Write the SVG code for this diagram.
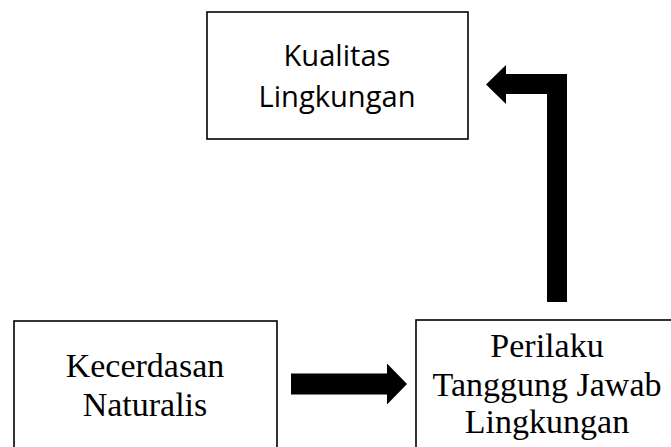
<svg xmlns="http://www.w3.org/2000/svg" width="671" height="447" viewBox="0 0 671 447">
<style>
.box{fill:#fff;stroke:#000;stroke-width:1.6}
.sans{font-family:"Open Sans","Noto Sans",sans-serif;font-size:29px;fill:#000;text-anchor:middle}
.serif{font-family:"Liberation Serif","Times New Roman",serif;font-size:34px;fill:#000;text-anchor:middle}
.arrow{fill:#000;stroke:none}
</style>
<rect width="671" height="447" fill="#fff"/>
<g id="node-kualitas">
<rect class="box" x="207" y="12" width="261" height="127"/>
<text class="sans" x="337" y="66" textLength="107" lengthAdjust="spacingAndGlyphs">Kualitas</text>
<text class="sans" x="337" y="107" textLength="157" lengthAdjust="spacingAndGlyphs">Lingkungan</text>
</g>
<g id="node-kecerdasan">
<rect class="box" x="14" y="321" width="263" height="140"/>
<text class="serif" x="145" y="377">Kecerdasan</text>
<text class="serif" x="145" y="416">Naturalis</text>
</g>
<g id="node-perilaku">
<rect class="box" x="416" y="320" width="270" height="140"/>
<text class="serif" x="547" y="357">Perilaku</text>
<text class="serif" x="547" y="396">Tanggung Jawab</text>
<text class="serif" x="547" y="433">Lingkungan</text>
</g>
<g id="connectors">
<polygon class="arrow" points="291,373.5 387,373.5 387,363.5 407,384 387,404.5 387,394.5 291,394.5"/>
<polygon class="arrow" points="547,302 567,302 567,74 506,74 506,65 486,84.5 506,104 506,94 547,94"/>
</g>
</svg>
